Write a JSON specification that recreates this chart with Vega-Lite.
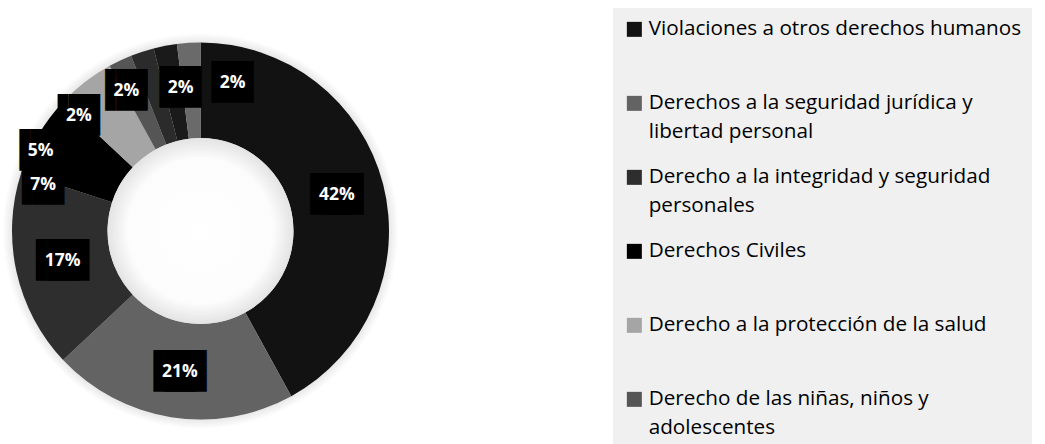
{
  "$schema": "https://vega.github.io/schema/vega-lite/v6.json",
  "width": 401,
  "height": 436,
  "padding": {"left": 0, "top": 8, "right": 0, "bottom": 0},
  "autosize": {"type": "pad"},
  "background": "white",
  "config": {"view": {"stroke": null}},
  "data": {
    "values": [
      {"categoria": "Violaciones a otros derechos humanos", "valor": 0.42, "orden": 1},
      {"categoria": "Derechos a la seguridad jurídica y libertad personal", "valor": 0.21, "orden": 2},
      {"categoria": "Derecho a la integridad y seguridad personales", "valor": 0.17, "orden": 3},
      {"categoria": "Derechos Civiles", "valor": 0.07, "orden": 4},
      {"categoria": "Derecho a la protección de la salud", "valor": 0.05, "orden": 5},
      {"categoria": "Derecho de las niñas, niños y adolescentes", "valor": 0.02, "orden": 6},
      {"categoria": "Categoría 7", "valor": 0.02, "orden": 7},
      {"categoria": "Categoría 8", "valor": 0.02, "orden": 8},
      {"categoria": "Categoría 9", "valor": 0.02, "orden": 9}
    ]
  },
  "resolve": {"scale": {"theta": "independent", "radius": "independent"}},
  "layer": [
    {
      "mark": {
        "type": "arc",
        "outerRadius": 198,
        "innerRadius": 0,
        "fill": {
          "gradient": "radial",
          "x1": 0.5, "y1": 0.5, "r1": 0,
          "x2": 0.5, "y2": 0.5, "r2": 0.5,
          "stops": [
            {"offset": 0, "color": "#e0e0e0"},
            {"offset": 0.94, "color": "#e2e2e2"},
            {"offset": 1, "color": "#ffffff"}
          ]
        }
      },
      "encoding": {
        "theta": {"aggregate": "sum", "field": "valor", "type": "quantitative"}
      }
    },
    {
      "mark": {"type": "arc", "outerRadius": 188.5, "innerRadius": 93, "strokeWidth": 0},
      "encoding": {
        "theta": {"field": "valor", "type": "quantitative", "stack": true},
        "order": {"field": "orden", "type": "quantitative"},
        "color": {
          "field": "categoria",
          "type": "nominal",
          "scale": {
            "domain": [
              "Violaciones a otros derechos humanos",
              "Derechos a la seguridad jurídica y libertad personal",
              "Derecho a la integridad y seguridad personales",
              "Derechos Civiles",
              "Derecho a la protección de la salud",
              "Derecho de las niñas, niños y adolescentes",
              "Categoría 7",
              "Categoría 8",
              "Categoría 9"
            ],
            "range": ["#121212", "#636363", "#2e2e2e", "#000000", "#a5a5a5", "#555555", "#2b2b2b", "#1a1a1a", "#6a6a6a"]
          },
          "legend": {
            "title": null,
            "orient": "none",
            "legendX": 613,
            "legendY": -5,
            "fillColor": "#f0f0f0",
            "padding": 11,
            "symbolType": "square",
            "symbolSize": 225,
            "symbolStrokeWidth": 0,
            "labelFont": "Open Sans",
            "labelFontSize": 20.7,
            "labelColor": "#000000",
            "labelOffset": 4,
            "labelLimit": 440,
            "rowPadding": 24,
            "gridAlign": "all",
            "values": [
              "Violaciones a otros derechos humanos",
              "Derechos a la seguridad jurídica y libertad personal",
              "Derecho a la integridad y seguridad personales",
              "Derechos Civiles",
              "Derecho a la protección de la salud",
              "Derecho de las niñas, niños y adolescentes"
            ],
            "labelExpr": "datum.label == 'Derechos a la seguridad jurídica y libertad personal' ? ['Derechos a la seguridad jurídica y', 'libertad personal'] : datum.label == 'Derecho a la integridad y seguridad personales' ? ['Derecho a la integridad y seguridad', 'personales'] : datum.label == 'Derecho de las niñas, niños y adolescentes' ? ['Derecho de las niñas, niños y', 'adolescentes'] : datum.label",
            "encode": {"labels": {"update": {"lineHeight": {"value": 28.5}}}}
          }
        }
      }
    },
    {
      "mark": {
        "type": "arc",
        "outerRadius": 93,
        "innerRadius": 0,
        "fill": {
          "gradient": "radial",
          "x1": 0.5, "y1": 0.5, "r1": 0,
          "x2": 0.5, "y2": 0.5, "r2": 0.5,
          "stops": [
            {"offset": 0, "color": "#ffffff"},
            {"offset": 0.78, "color": "#fcfcfc"},
            {"offset": 1, "color": "#e3e3e3"}
          ]
        }
      },
      "encoding": {
        "theta": {"aggregate": "sum", "field": "valor", "type": "quantitative"}
      }
    },
    {
      "transform": [{"filter": "datum.valor >= 0.1"}],
      "mark": {"type": "text", "font": "DejaVu Sans Mono", "fontSize": 35, "color": "#000000", "baseline": "middle", "align": "center", "dx": -5.5, "text": "▐█▌"},
      "encoding": {
        "theta": {"field": "orden", "type": "quantitative", "stack": null, "scale": {"type": "linear", "zero": false, "nice": false, "domain": [1, 2, 3, 4, 5, 6, 7, 8, 9], "range": [1.316, 3.286, 4.498, 4.997, 5.178, 5.472, 5.798, 6.144, 6.496]}},
        "radius": {"field": "orden", "type": "quantitative", "scale": {"type": "linear", "zero": false, "nice": false, "domain": [1, 2, 3, 4, 5, 6, 7, 8, 9], "range": [141, 142.5, 141, 164, 179, 167.6, 158.8, 143.9, 151.9]}}
      }
    },
    {
      "transform": [{"filter": "datum.valor >= 0.1"}],
      "mark": {"type": "text", "font": "DejaVu Sans Mono", "fontSize": 35, "color": "#000000", "baseline": "middle", "align": "center", "dx": 5.5, "text": "▐█▌"},
      "encoding": {
        "theta": {"field": "orden", "type": "quantitative", "stack": null, "scale": {"type": "linear", "zero": false, "nice": false, "domain": [1, 2, 3, 4, 5, 6, 7, 8, 9], "range": [1.316, 3.286, 4.498, 4.997, 5.178, 5.472, 5.798, 6.144, 6.496]}},
        "radius": {"field": "orden", "type": "quantitative", "scale": {"type": "linear", "zero": false, "nice": false, "domain": [1, 2, 3, 4, 5, 6, 7, 8, 9], "range": [141, 142.5, 141, 164, 179, 167.6, 158.8, 143.9, 151.9]}}
      }
    },
    {
      "transform": [{"filter": "datum.valor < 0.1"}],
      "mark": {"type": "text", "font": "DejaVu Sans Mono", "fontSize": 35, "color": "#000000", "baseline": "middle", "align": "center", "text": "▐█▌"},
      "encoding": {
        "theta": {"field": "orden", "type": "quantitative", "stack": null, "scale": {"type": "linear", "zero": false, "nice": false, "domain": [1, 2, 3, 4, 5, 6, 7, 8, 9], "range": [1.316, 3.286, 4.498, 4.997, 5.178, 5.472, 5.798, 6.144, 6.496]}},
        "radius": {"field": "orden", "type": "quantitative", "scale": {"type": "linear", "zero": false, "nice": false, "domain": [1, 2, 3, 4, 5, 6, 7, 8, 9], "range": [141, 142.5, 141, 164, 179, 167.6, 158.8, 143.9, 151.9]}}
      }
    },
    {
      "mark": {"type": "text", "font": "Open Sans", "fontSize": 17.5, "fontWeight": "bold", "color": "#ffffff", "baseline": "middle", "align": "center"},
      "encoding": {
        "text": {"field": "valor", "type": "quantitative", "format": ".0%"},
        "theta": {"field": "orden", "type": "quantitative", "stack": null, "scale": {"type": "linear", "zero": false, "nice": false, "domain": [1, 2, 3, 4, 5, 6, 7, 8, 9], "range": [1.316, 3.286, 4.498, 4.997, 5.178, 5.472, 5.798, 6.144, 6.496]}},
        "radius": {"field": "orden", "type": "quantitative", "scale": {"type": "linear", "zero": false, "nice": false, "domain": [1, 2, 3, 4, 5, 6, 7, 8, 9], "range": [141, 142.5, 141, 164, 179, 167.6, 158.8, 143.9, 151.9]}}
      }
    }
  ]
}
